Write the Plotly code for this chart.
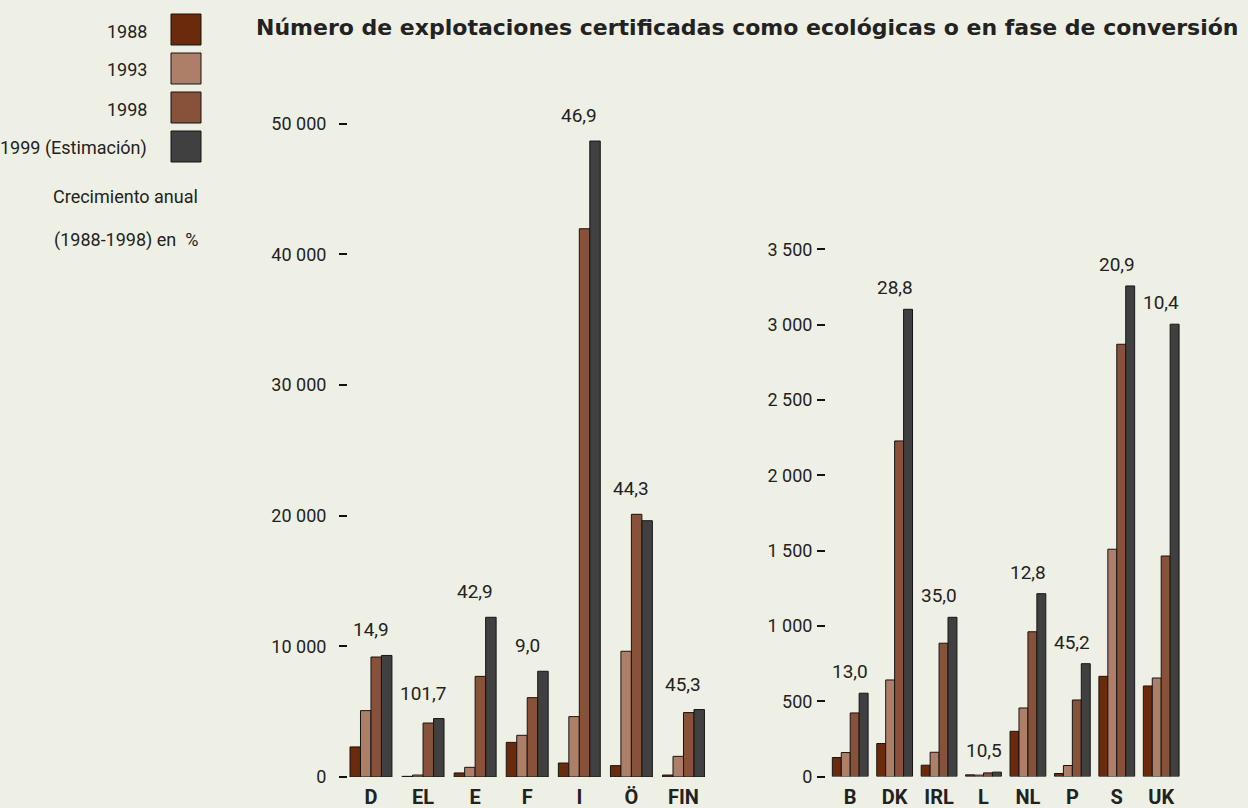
import plotly.graph_objects as go

# ---- data ----
countries_a = ["D", "EL", "E", "F", "I", "Ö", "FIN"]
a_1988 = [2300, 50, 310, 2650, 1070, 870, 150]
a_1993 = [5080, 150, 740, 3190, 4620, 9620, 1580]
a_1998 = [9180, 4130, 7700, 6070, 41950, 20100, 4930]
a_1999 = [9300, 4470, 12220, 8090, 48660, 19610, 5160]
growth_a = ["14,9", "101,7", "42,9", "9,0", "46,9", "44,3", "45,3"]

countries_b = ["B", "DK", "IRL", "L", "NL", "P", "S", "UK"]
b_1988 = [126, 219, 75, 11, 300, 20, 665, 601]
b_1993 = [159, 641, 161, 9, 455, 73, 1509, 654]
b_1998 = [422, 2228, 885, 24, 961, 508, 2870, 1464]
b_1999 = [553, 3102, 1057, 29, 1214, 749, 3257, 3003]
growth_b = ["13,0", "28,8", "35,0", "10,5", "12,8", "45,2", "20,9", "10,4"]

series_names = ["1988", "1993", "1998", "1999 (Estimación)"]
series_colors = ["#6B2A0C", "#AD7F68", "#88513A", "#404040"]

ticks_a = [0, 10000, 20000, 30000, 40000, 50000]
ticktext_a = ["0", "10 000", "20 000", "30 000", "40 000", "50 000"]
ticks_b = [0, 500, 1000, 1500, 2000, 2500, 3000, 3500]
ticktext_b = ["0", "500", "1 000", "1 500", "2 000", "2 500", "3 000", "3 500"]

title = "Número de explotaciones certificadas como ecológicas o en fase de conversión"
legend_note = ["Crecimiento anual", "(1988-1998) en  %"]

BG = "#EFF0E5"
TXT = "#222222"
FONT = "Roboto, Liberation Sans, sans-serif"

W, H = 1248, 808

fig = go.Figure()

data_a = [a_1988, a_1993, a_1998, a_1999]
data_b = [b_1988, b_1993, b_1998, b_1999]
for i in range(4):
    fig.add_trace(go.Bar(x=countries_a, y=data_a[i], name=series_names[i],
                         marker=dict(color=series_colors[i], line=dict(color="#151515", width=1)),
                         xaxis="x", yaxis="y", showlegend=False))
for i in range(4):
    fig.add_trace(go.Bar(x=countries_b, y=data_b[i], name=series_names[i],
                         marker=dict(color=series_colors[i], line=dict(color="#151515", width=1)),
                         xaxis="x2", yaxis="y2", showlegend=False))

def px_x(p):
    return p / W

def px_y(p):
    return 1 - p / H

axis_common = dict(showgrid=False, zeroline=False, showline=False, automargin=False)
tickfont = dict(family=FONT, size=18, color=TXT)
xfont = dict(family=FONT, size=20, color=TXT, weight="bold")
fig.update_layout(
    width=W, height=H,
    paper_bgcolor=BG, plot_bgcolor=BG,
    margin=dict(l=0, r=0, t=0, b=0, autoexpand=False),
    barmode="group", bargap=0.195, bargroupgap=0,
    font=dict(family=FONT, size=18, color=TXT),
    xaxis=dict(domain=[px_x(348), px_x(710)], range=[-0.441, 6.509], anchor="y",
               tickfont=xfont, ticks="", ticklabelstandoff=6, **axis_common),
    yaxis=dict(domain=[px_y(777), px_y(97.4)], range=[0, 52000], anchor="x",
               tickvals=ticks_a, ticktext=ticktext_a, ticks="outside", ticklen=8,
               tickcolor="#111111", tickwidth=1.5, ticklabelstandoff=9,
               tickfont=tickfont, **axis_common),
    xaxis2=dict(domain=[px_x(826), px_x(1186)], range=[-0.545, 7.558], anchor="y2",
                tickfont=xfont, ticks="", ticklabelstandoff=6, **axis_common),
    yaxis2=dict(domain=[px_y(776.5), px_y(234.3)], range=[0, 3600], anchor="x2",
                tickvals=ticks_b, ticktext=ticktext_b, ticks="outside", ticklen=8,
                tickcolor="#111111", tickwidth=1.5, ticklabelstandoff=1,
                tickfont=tickfont, **axis_common),
)

annotations = []
for i, c in enumerate(countries_a):
    top = max(a_1988[i], a_1993[i], a_1998[i], a_1999[i])
    annotations.append(dict(x=c, y=top, xref="x", yref="y", text=growth_a[i],
                            showarrow=False, yanchor="bottom", yshift=12,
                            font=dict(family=FONT, size=19, color=TXT)))
for i, c in enumerate(countries_b):
    top = max(b_1988[i], b_1993[i], b_1998[i], b_1999[i])
    annotations.append(dict(x=c, y=top, xref="x2", yref="y2", text=growth_b[i],
                            showarrow=False, yanchor="bottom", yshift=8,
                            font=dict(family=FONT, size=19, color=TXT)))

# title
annotations.append(dict(x=px_x(1240), y=px_y(27), xref="paper", yref="paper", text=title,
                        showarrow=False, xanchor="right", yanchor="middle",
                        font=dict(family="DejaVu Sans, sans-serif", size=22, color=TXT, weight="bold")))

# custom legend: text left of square
shapes = []
sq_tops = [14, 53, 92, 131]
for i in range(4):
    y0 = sq_tops[i]
    shapes.append(dict(type="rect", xref="paper", yref="paper",
                       x0=px_x(171), x1=px_x(201), y0=px_y(y0 + 31), y1=px_y(y0),
                       fillcolor=series_colors[i], line=dict(color="#151515", width=1)))
    annotations.append(dict(x=px_x(149), y=px_y(y0 + 17), xref="paper", yref="paper",
                            text=series_names[i], showarrow=False, xanchor="right", yanchor="middle",
                            font=dict(family=FONT, size=18, color=TXT)))
for j, t in enumerate(legend_note):
    annotations.append(dict(x=px_x(200), y=px_y(196 + 44 * j), xref="paper", yref="paper",
                            text=t, showarrow=False, xanchor="right", yanchor="middle",
                            font=dict(family=FONT, size=18, color=TXT)))

fig.update_layout(annotations=annotations, shapes=shapes)
fig.write_html("out.html", config={"displayModeBar": False},
               post_script="document.body.style.margin='0';")
